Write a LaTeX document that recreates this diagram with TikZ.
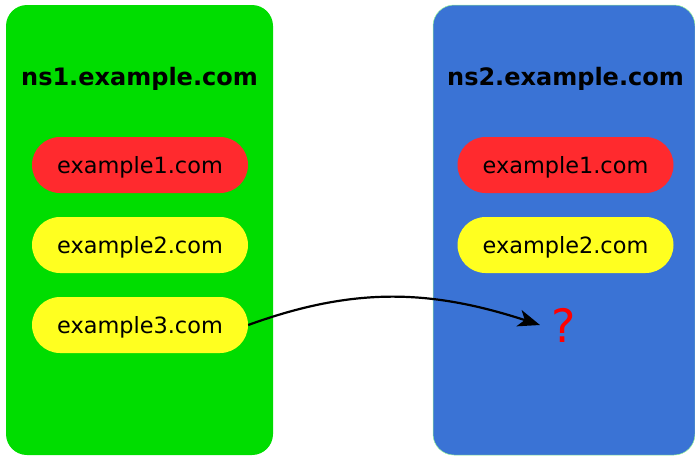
\documentclass[tikz,border=0pt]{standalone}
\usepackage{fontspec}
\setmainfont{DejaVu Sans}
\usetikzlibrary{arrows.meta}

\definecolor{srvgreen}{RGB}{0,221,0}
\definecolor{srvblue}{RGB}{58,115,213}
\definecolor{srvedge}{RGB}{150,245,150}
\definecolor{zonered}{RGB}{255,42,46}
\definecolor{zoneyellow}{RGB}{255,255,32}

\tikzset{
  server/.style={rounded corners=21pt},
  srvtitle/.style={font=\bfseries\fontsize{24}{28}\selectfont, inner sep=0pt, text depth=0pt},
  zone/.style={rounded corners=28pt, minimum width=216pt, minimum height=56pt,
               inner sep=0pt, text depth=0pt, font=\fontsize{22.4}{26}\selectfont},
  transfer/.style={line width=2.2pt, -{Stealth[length=22pt,width=17pt,inset=6pt]}},
}

\begin{document}
\begin{tikzpicture}[x=1pt,y=-1pt]
  \useasboundingbox (0,0) rectangle (695,456);

  % name servers
  \fill[srvgreen, server] (6,5) rectangle (273,455);
  \filldraw[fill=srvblue, draw=srvedge, line width=0.5pt, server] (433,5) rectangle (695,455);

  \node[srvtitle] (t1) at (139.5,76) {ns1.example.com};
  \node[srvtitle] (t2) at (565.5,76) {ns2.example.com};

  % zones held by ns1
  \node[zone, fill=zonered]    (a1) at (140,165) {example1.com};
  \node[zone, fill=zoneyellow] (a2) at (140,245) {example2.com};
  \node[zone, fill=zoneyellow] (a3) at (140,325) {example3.com};

  % zones held by ns2
  \node[zone, fill=zonered]    (b1) at (565.5,165) {example1.com};
  \node[zone, fill=zoneyellow] (b2) at (565.5,245) {example2.com};

  % missing zone
  \node[text=red, font=\fontsize{46}{50}\selectfont, inner sep=0pt] (q) at (564,325) {?};
  \coordinate (tip) at (540,325);

  \draw[transfer] (a3.east) to[out=20, in=162] (tip);
\end{tikzpicture}
\end{document}
